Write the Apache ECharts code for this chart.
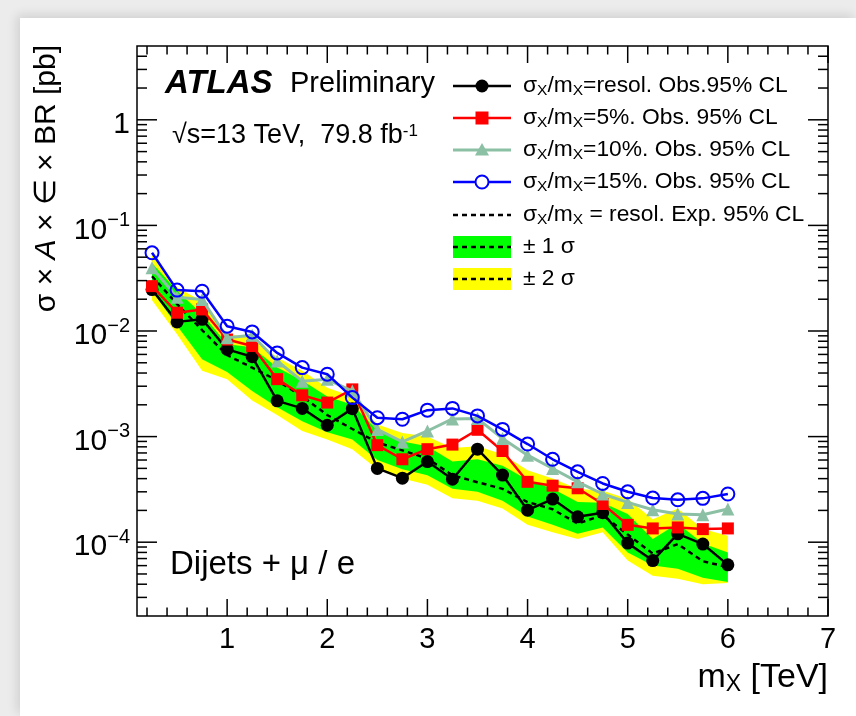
<!DOCTYPE html>
<html>
<head>
<meta charset="utf-8">
<script src="https://cdn.jsdelivr.net/npm/echarts@6/dist/echarts.min.js"></script>
<style>
  html, body { margin:0; padding:0; width:856px; height:716px; overflow:hidden; background:#ececec; }
  #bg { position:absolute; left:20px; top:18px; right:0; bottom:0; background:#fff; box-shadow:-3px -3px 10px rgba(0,0,0,0.12); }
  #chart { position:absolute; left:0; top:0; width:856px; height:716px; }
</style>
</head>
<body>
<div id="bg"></div>
<div id="chart"></div>
<script>
// ---- data (m_X in TeV, limits in pb) ----
const masses = [0.25,0.5,0.75,1.0,1.25,1.5,1.75,2.0,2.25,2.5,2.75,3.0,3.25,3.5,3.75,4.0,4.25,4.5,4.75,5.0,5.25,5.5,5.75,6.0];
const obsResol = [0.0247,0.0122,0.0129,0.0067,0.0057,0.00218,0.00185,0.00128,0.00184,0.0005,0.000404,0.00058,0.000395,0.00076,0.000432,0.000201,0.000256,0.000174,0.00019,0.000098,0.000067,0.00012,0.000096,0.000061];
const obs5 = [0.0266,0.0149,0.016,0.0083,0.0072,0.0035,0.00246,0.0021,0.0028,0.00083,0.00061,0.00076,0.00084,0.00116,0.00073,0.000373,0.000343,0.000324,0.00023,0.000146,0.000135,0.000138,0.000133,0.000135];
const obs10 = [0.0397,0.0209,0.0199,0.00865,0.0091,0.0052,0.00335,0.00349,0.0027,0.00117,0.00089,0.00113,0.00147,0.00148,0.00096,0.000667,0.000499,0.000373,0.000286,0.000238,0.000203,0.000185,0.000182,0.000206];
const obs15 = [0.055,0.0244,0.0238,0.0111,0.0098,0.0062,0.0045,0.0039,0.00234,0.00151,0.00146,0.00178,0.00185,0.00157,0.00117,0.00085,0.00061,0.000464,0.00036,0.0003,0.000262,0.000252,0.00026,0.000286];
const expMedian = [0.033,0.018,0.0102,0.0059,0.0045,0.0034,0.0024,0.0016,0.00118,0.00088,0.00074,0.00062,0.00043,0.00037,0.00032,0.00024,0.000205,0.00015,0.00018,0.000118,0.000078,0.000096,0.000066,0.000058];
const expPlus1 = [0.044,0.024,0.0145,0.0075,0.007,0.0045,0.0034,0.0024,0.002,0.00115,0.0009,0.00081,0.00058,0.00061,0.00053,0.00039,0.00032,0.00024,0.000236,0.000185,0.000107,0.00015,0.000097,0.00008];
const expMinus1 = [0.024,0.0112,0.0054,0.0041,0.0027,0.0019,0.0014,0.0011,0.00094,0.0006,0.00049,0.00043,0.00032,0.0003,0.000247,0.000175,0.000146,0.00012,0.000138,0.00008,0.00006,0.000056,0.000046,0.000042];
const expPlus2 = [0.053,0.026,0.019,0.0093,0.0087,0.0056,0.0042,0.0029,0.0024,0.0013,0.00108,0.001,0.00078,0.00081,0.00068,0.00048,0.0004,0.00032,0.000307,0.000258,0.000165,0.000208,0.000133,0.000115];
const expMinus2 = [0.0195,0.0093,0.0042,0.0035,0.0022,0.0016,0.00113,0.00094,0.00076,0.00049,0.0004,0.00035,0.00026,0.000247,0.000208,0.000146,0.000124,0.000107,0.000124,0.000067,0.000048,0.000045,0.00004,0.000041];

// ---- axes / tick labels ----
const xMin = 0.1, xMax = 7;
const yMin = 2e-5, yMax = 5;
const xMajorTicks = [1,2,3,4,5,6,7];
const xTickLabels = ['1','2','3','4','5','6','7'];
const yMajorTicks = [1e-4,1e-3,1e-2,1e-1,1];
const yTickLabels = ['{b|10}{sup|\u22124}','{b|10}{sup|\u22123}','{b|10}{sup|\u22122}','{b|10}{sup|\u22121}','{b|1}'];
const xMinorTicks = [];
for (let k = 1; k < 35; k++) { if (k % 5 !== 0) xMinorTicks.push(+(k * 0.2).toFixed(1)); }
const yMinorTicks = [];
for (let e = -5; e <= 0; e++) for (let m = 2; m <= 9; m++) { const v = m * Math.pow(10, e); if (v > yMin && v < yMax) yMinorTicks.push(v); }

const legendLabels = [
  '\u03c3{s|X}/m{s|X}=resol. Obs.95% CL',
  '\u03c3{s|X}/m{s|X}=5%. Obs. 95% CL',
  '\u03c3{s|X}/m{s|X}=10%. Obs. 95% CL',
  '\u03c3{s|X}/m{s|X}=15%. Obs. 95% CL',
  '\u03c3{s|X}/m{s|X} = resol. Exp. 95% CL',
  '\u00b1 1 \u03c3',
  '\u00b1 2 \u03c3'
];

const FONT = '"Liberation Sans", Arial, Helvetica, sans-serif';
const C_BLACK = '#000000', C_RED = '#ff0000', C_TRI = '#8cc0a4', C_BLUE = '#0000ff', C_GREEN = '#00ff00', C_YELLOW = '#ffff00';

const pairs = arr => masses.map((m, i) => [m, arr[i]]);

const chart = echarts.init(document.getElementById('chart'), null, { renderer: 'canvas' });

function bandsRender(params, api) {
  const pts = (up, dn) => masses.map((m, i) => api.coord([m, up[i]]))
    .concat(masses.map((m, i) => api.coord([m, dn[i]])).reverse());
  return { type: 'group', children: [
    { type: 'polygon', shape: { points: pts(expPlus2, expMinus2) }, style: { fill: C_YELLOW } },
    { type: 'polygon', shape: { points: pts(expPlus1, expMinus1) }, style: { fill: C_GREEN } }
  ]};
}

function frameRender(params, api) {
  const cs = params.coordSys;
  const L = cs.x, R = cs.x + cs.width, T = cs.y, B = cs.y + cs.height;
  const st = { stroke: '#000', lineWidth: 1.5 };
  const seg = (x1, y1, x2, y2) => ({ type: 'line', shape: { x1, y1, x2, y2 }, style: st });
  const ch = [];
  xMajorTicks.forEach(v => { const p = api.coord([v, yMin])[0]; ch.push(seg(p, B, p, B - 17), seg(p, T, p, T + 17)); });
  xMinorTicks.forEach(v => { const p = api.coord([v, yMin])[0]; ch.push(seg(p, B, p, B - 8.5), seg(p, T, p, T + 8.5)); });
  yMajorTicks.forEach(v => { const p = api.coord([xMin, v])[1]; ch.push(seg(L, p, L + 20, p), seg(R, p, R - 20, p)); });
  yMinorTicks.forEach(v => { const p = api.coord([xMin, v])[1]; ch.push(seg(L, p, L + 10, p), seg(R, p, R - 10, p)); });
  ch.push({ type: 'rect', shape: { x: L, y: T, width: cs.width, height: cs.height }, style: { fill: 'none', stroke: '#000', lineWidth: 1.5 } });
  return { type: 'group', children: ch };
}

// legend graphics
const legX0 = 453, legX1 = 511, legXM = 482, legTextX = 523;
const legY = [86, 118, 150, 182, 215, 247, 279];
const legendEls = [];
const lineStyles = [
  { c: C_BLACK, w: 2.5, sym: 'circle' },
  { c: C_RED, w: 2.5, sym: 'rect' },
  { c: C_TRI, w: 3, sym: 'triangle' },
  { c: C_BLUE, w: 2.5, sym: 'ocircle' }
];
lineStyles.forEach((s, i) => {
  const y = legY[i];
  legendEls.push({ type: 'line', shape: { x1: legX0, y1: y, x2: legX1, y2: y }, style: { stroke: s.c, lineWidth: s.w } });
  if (s.sym === 'circle') legendEls.push({ type: 'circle', shape: { cx: legXM, cy: y, r: 6.5 }, style: { fill: s.c } });
  if (s.sym === 'rect') legendEls.push({ type: 'rect', shape: { x: legXM - 6.5, y: y - 6.5, width: 13, height: 13 }, style: { fill: s.c } });
  if (s.sym === 'triangle') legendEls.push({ type: 'polygon', shape: { points: [[legXM, y - 7], [legXM + 7, y + 5.5], [legXM - 7, y + 5.5]] }, style: { fill: s.c } });
  if (s.sym === 'ocircle') legendEls.push({ type: 'circle', shape: { cx: legXM, cy: y, r: 6.5 }, style: { fill: '#fff', stroke: s.c, lineWidth: 2 } });
});
legendEls.push({ type: 'line', shape: { x1: legX0, y1: legY[4], x2: legX1, y2: legY[4] }, style: { stroke: '#000', lineWidth: 2.5, lineDash: [5, 4] } });
[[C_GREEN, legY[5]], [C_YELLOW, legY[6]]].forEach(([c, y]) => {
  legendEls.push({ type: 'rect', shape: { x: legX0, y: y - 11, width: legX1 - legX0, height: 22 }, style: { fill: c } });
  legendEls.push({ type: 'line', shape: { x1: legX0, y1: y, x2: legX1, y2: y }, style: { stroke: '#000', lineWidth: 2.5, lineDash: [5, 4] } });
});
legendLabels.forEach((t, i) => {
  legendEls.push({ type: 'text', x: legTextX, y: legY[i], style: {
    text: t, fill: '#000', font: '22.8px ' + FONT, verticalAlign: 'middle', align: 'left',
    rich: { s: { fontSize: 15.5, fontFamily: FONT, padding: [9, 0, 0, 0], lineHeight: 15.5 } }
  }});
});

const option = {
  animation: false,
  backgroundColor: 'transparent',
  textStyle: { fontFamily: FONT },
  grid: { left: 137, right: 28, top: 46, bottom: 100, containLabel: false },
  xAxis: {
    type: 'value', min: xMin, max: xMax,
    axisLine: { show: false }, axisTick: { show: false }, splitLine: { show: false },
    axisLabel: { customValues: xMajorTicks, formatter: v => xTickLabels[xMajorTicks.indexOf(Math.round(v))] || '', color: '#000', fontSize: 29, fontFamily: FONT, margin: 9 }
  },
  yAxis: {
    type: 'log', logBase: 10, min: yMin, max: yMax,
    axisLine: { show: false }, axisTick: { show: false }, splitLine: { show: false }, minorTick: { show: false },
    axisLabel: {
      showMinLabel: false, showMaxLabel: false, margin: 7, color: '#000',
      formatter: v => { const e = Math.round(Math.log10(v)); const i = yMajorTicks.findIndex(t => Math.round(Math.log10(t)) === e); return (i >= 0 && Math.abs(Math.log10(v) - e) < 1e-6) ? yTickLabels[i] : ''; },
      rich: {
        b: { fontSize: 30, lineHeight: 30, padding: [10, 0, 0, 0], fontFamily: FONT, color: '#000' },
        sup: { fontSize: 20, lineHeight: 24, verticalAlign: 'top', fontFamily: FONT, color: '#000' }
      }
    }
  },
  graphic: [
    { type: 'group', children: legendEls },
    { type: 'text', x: 165, y: 84, style: { text: 'ATLAS', font: 'italic bold 33px ' + FONT, fill: '#000', verticalAlign: 'middle' } },
    { type: 'text', x: 290, y: 84, style: { text: 'Preliminary', font: '29px ' + FONT, fill: '#000', verticalAlign: 'middle' } },
    { type: 'text', x: 172, y: 136, style: { text: '\u221as=13 TeV,  79.8 fb{sup|-1}', font: '27px ' + FONT, fill: '#000', verticalAlign: 'middle',
      rich: { sup: { fontSize: 17, fontFamily: FONT, verticalAlign: 'top', lineHeight: 17 } } } },
    { type: 'text', x: 170, y: 565, style: { text: 'Dijets + \u03bc / e', font: '33px ' + FONT, fill: '#000', verticalAlign: 'middle' } },
    { type: 'text', x: 828, y: 678, style: { text: 'm{s|X} [TeV]', font: '34px ' + FONT, fill: '#000', align: 'right', verticalAlign: 'middle',
      rich: { s: { fontSize: 23, fontFamily: FONT, padding: [14, 0, 0, 0], lineHeight: 23 } } } },
    { type: 'text', x: 47, y: 45, rotation: Math.PI / 2, style: { text: '\u03c3 \u00d7 {i|A} \u00d7 \u2208 \u00d7 BR [pb]', font: '30px ' + FONT, fill: '#000', align: 'right', verticalAlign: 'middle',
      rich: { i: { fontSize: 30, fontStyle: 'italic', fontFamily: FONT } } } }
  ],
  series: [
    { type: 'custom', name: 'bands', renderItem: bandsRender, data: [[masses[0], expMedian[0]]], z: 1, silent: true },
    { type: 'line', name: 'expected', data: pairs(expMedian), symbol: 'none', z: 3,
      lineStyle: { color: '#000', width: 2.5, type: [5, 4] } },
    { type: 'line', name: 'obs resol', data: pairs(obsResol), symbol: 'circle', symbolSize: 13, z: 4,
      itemStyle: { color: C_BLACK }, lineStyle: { color: C_BLACK, width: 2.5 } },
    { type: 'line', name: 'obs 5%', data: pairs(obs5), symbol: 'rect', symbolSize: 12, z: 5,
      itemStyle: { color: C_RED }, lineStyle: { color: C_RED, width: 2.5 } },
    { type: 'line', name: 'obs 10%', data: pairs(obs10), symbol: 'triangle', symbolSize: 13, z: 6,
      itemStyle: { color: C_TRI }, lineStyle: { color: C_TRI, width: 3 } },
    { type: 'line', name: 'obs 15%', data: pairs(obs15), symbol: 'circle', symbolSize: 13, z: 7,
      itemStyle: { color: 'rgba(0,0,0,0)', borderColor: C_BLUE, borderWidth: 2 }, lineStyle: { color: C_BLUE, width: 2.5 } },
    { type: 'custom', name: 'frame', renderItem: frameRender, data: [[xMin, yMin]], z: 10, silent: true }
  ]
};
chart.setOption(option);
</script>
</body>
</html>
